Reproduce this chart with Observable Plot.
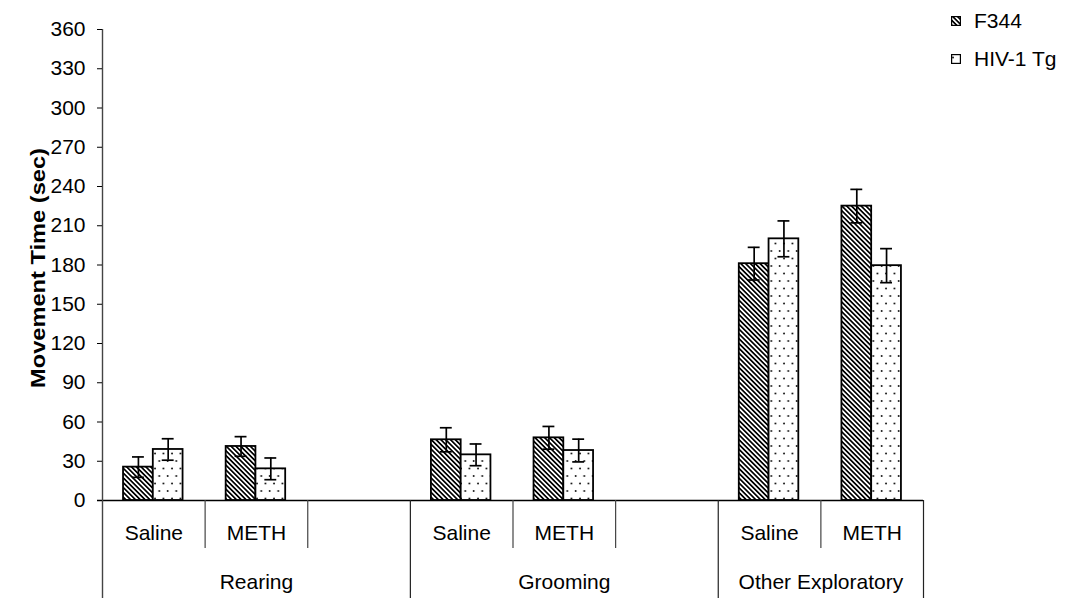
<!DOCTYPE html>
<html>
<head>
<meta charset="utf-8">
<script src="https://cdn.jsdelivr.net/npm/d3@7"></script>
<script src="https://cdn.jsdelivr.net/npm/@observablehq/plot@0.6"></script>
<style>
  html, body { margin: 0; padding: 0; background: #fff; }
  #wrap { position: relative; width: 1067px; height: 598px; font-family: "Liberation Sans", Arial, sans-serif; }
  #legend { position: absolute; left: 951px; top: 2px; font-size: 21px; color: #000; }
  #legend .item { display: flex; align-items: center; height: 38px; white-space: nowrap; }
  #legend svg { margin-right: 13px; }
</style>
</head>
<body>
<div id="wrap">
  <div id="chart"></div>
  <div id="legend"></div>
</div>
<script>
// ---- data ----
const groups = ["Rearing", "Grooming", "Other Exploratory"];
const groupTickLabels = [["Saline", "METH", ""], ["Saline", "METH", ""], ["Saline", "METH"]];
const treatments = ["Saline", "METH"];
const strains = ["F344", "HIV-1 Tg"];
// order: Rearing-Saline, Rearing-METH, Grooming-Saline, Grooming-METH, Other-Saline, Other-METH
const f344Mean = [25.5, 41.3, 46.4, 47.9, 181, 225];
const f344SE = [7.8, 7.5, 9.2, 8.7, 12.5, 12.8];
const hivMean = [39, 24.2, 34.9, 38.2, 200, 179.5];
const hivSE = [8.2, 8.3, 8.3, 8.7, 13.7, 13];
const yTicks = [0, 30, 60, 90, 120, 150, 180, 210, 240, 270, 300, 330, 360];
const yTitle = "Movement Time (sec)";

// ---- derived tables ----
const slots = [];
groups.forEach((g, gi) => groupTickLabels[gi].forEach((t) => slots.push({group: g, label: t, index: slots.length})));
const nSlots = slots.length;
const groupSpans = groups.map((g) => {
  const s = slots.filter((d) => d.group === g);
  return {group: g, start: s[0].index, end: s[s.length - 1].index + 1};
});
const boundaries = d3.range(nSlots + 1).map((b) => ({b, major: b === nSlots || groupSpans.some((s) => s.start === b)}));

const BAR_START = 0.205, BAR_W = 0.29, CAP = 0.058;
const rows = [];
groups.forEach((g, gi) => treatments.forEach((t, ti) => {
  const k = gi * treatments.length + ti;
  const slot = slots.find((d) => d.group === g && d.label === t).index;
  [[f344Mean, f344SE], [hivMean, hivSE]].forEach(([m, se], si) => {
    const x1 = slot + BAR_START + si * BAR_W;
    rows.push({group: g, treatment: t, strain: strains[si], mean: m[k], se: se[k], x1, x2: x1 + BAR_W, xc: x1 + BAR_W / 2});
  });
}));

const chart = Plot.plot({
  width: 1067,
  height: 598,
  marginLeft: 102,
  marginRight: 144,
  marginTop: 20,
  marginBottom: 0,
  style: {fontFamily: '"Liberation Sans", Arial, sans-serif', fontSize: "21px", color: "#000", background: "#fff", overflow: "visible"},
  x: {domain: [0, nSlots], axis: null},
  y: {domain: [0, 360], range: [500, 29], axis: null},
  marks: [
    Plot.rectY(rows.filter((d) => d.strain === strains[0]), {x1: "x1", x2: "x2", y: "mean", fill: "url(#hatch)", stroke: "#000", strokeWidth: 1.8}),
    Plot.rectY(rows.filter((d) => d.strain === strains[1]), {x1: "x1", x2: "x2", y: "mean", fill: "url(#dots)", stroke: "#000", strokeWidth: 1.8}),
    Plot.ruleX(rows, {x: "xc", y1: (d) => d.mean - d.se, y2: (d) => d.mean + d.se, stroke: "#000", strokeWidth: 1.7}),
    Plot.ruleY(rows, {y: (d) => d.mean + d.se, x1: (d) => d.xc - CAP, x2: (d) => d.xc + CAP, stroke: "#000", strokeWidth: 1.7}),
    Plot.ruleY(rows, {y: (d) => d.mean - d.se, x1: (d) => d.xc - CAP, x2: (d) => d.xc + CAP, stroke: "#000", strokeWidth: 1.7}),
    // baseline
    Plot.ruleY([0], {stroke: "#000", strokeWidth: 1.4, insetLeft: -5}),
    // y axis line, continued down as the left category separator
    Plot.ruleX([0], {y1: () => 360, y2: () => 0, insetBottom: -98, stroke: "#444", strokeWidth: 1.4}),
    // category separators below the baseline
    Plot.ruleX(boundaries.filter((d) => d.major && d.b > 0), {x: "b", y1: () => 0, y2: () => 0, insetBottom: -98, stroke: "#222", strokeWidth: 1.2}),
    Plot.ruleX(boundaries.filter((d) => !d.major), {x: "b", y1: () => 0, y2: () => 0, insetBottom: -48, stroke: "#444", strokeWidth: 1.2}),
    Plot.axisY({ticks: yTicks, tickSize: 5, tickPadding: 12, label: null, stroke: "#000", fontSize: 21}),
    Plot.text(slots.filter((d) => d.label), {x: (d) => d.index + 0.5, y: () => 0, text: "label", dy: 33, fontSize: 21, fill: "#000"}),
    Plot.text(groupSpans, {x: (d) => (d.start + d.end) / 2, y: () => 0, text: "group", dy: 82, fontSize: 21, fill: "#000"})
  ]
});

// patterns
const root = d3.select(chart);
const defs = root.insert("defs", ":first-child");
const hatch = defs.append("pattern").attr("id", "hatch").attr("patternUnits", "userSpaceOnUse")
  .attr("width", 3.4).attr("height", 3.4).attr("patternTransform", "rotate(-45)");
hatch.append("rect").attr("width", 3.4).attr("height", 3.4).attr("fill", "#fff");
hatch.append("rect").attr("width", 1.7).attr("height", 3.4).attr("fill", "#000");
const dots = defs.append("pattern").attr("id", "dots").attr("patternUnits", "userSpaceOnUse")
  .attr("width", 8.5).attr("height", 15);
dots.append("rect").attr("width", 8.5).attr("height", 15).attr("fill", "#fff");
dots.append("circle").attr("cx", 2).attr("cy", 3.5).attr("r", 0.9).attr("fill", "#000");
dots.append("circle").attr("cx", 6.25).attr("cy", 11).attr("r", 0.9).attr("fill", "#000");

// y-axis title
root.append("text")
  .attr("transform", "translate(38,268) rotate(-90)")
  .attr("text-anchor", "middle")
  .attr("dominant-baseline", "central")
  .attr("font-size", 20)
  .attr("font-weight", "bold")
  .attr("fill", "#000")
  .attr("textLength", 240)
  .attr("lengthAdjust", "spacingAndGlyphs")
  .text(yTitle);

document.getElementById("chart").appendChild(chart);

// legend
const legend = d3.select("#legend");
strains.forEach((s, i) => {
  const item = legend.append("div").attr("class", "item");
  const sw = item.append("svg").attr("width", 10).attr("height", 10);
  sw.append("rect").attr("x", 0.6).attr("y", 0.6).attr("width", 8.8).attr("height", 8.8)
    .attr("fill", i === 0 ? "url(#hatch)" : "url(#dots)").attr("stroke", "#000").attr("stroke-width", 1.2);
  item.append("span").text(s);
});
</script>
</body>
</html>
